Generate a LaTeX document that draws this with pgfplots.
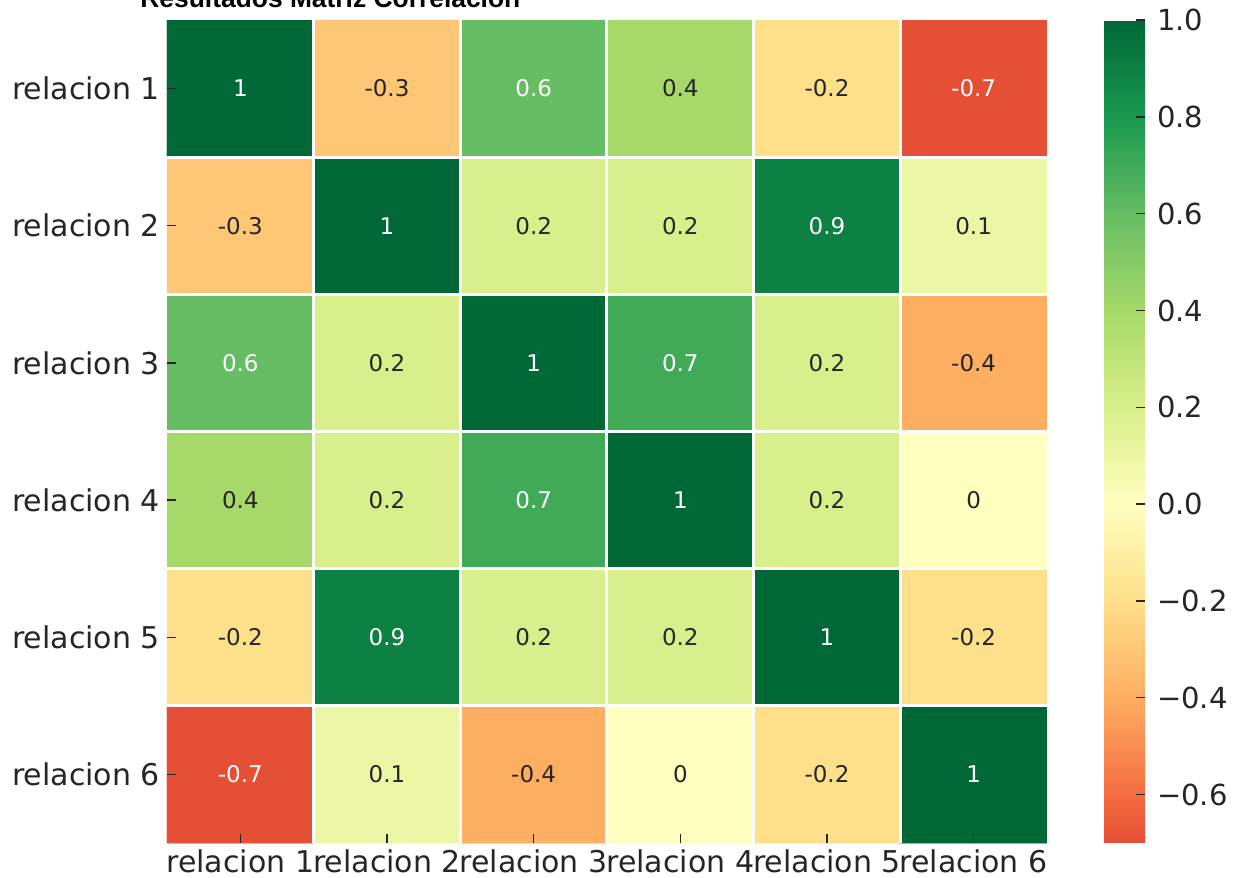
\documentclass[border=0pt]{standalone}
\usepackage{pgfplots}
\pgfplotsset{compat=1.18}
\usepackage{pgfplotstable}
\usepackage{fontspec}
\setmainfont{DejaVu Sans}
\newfontfamily\titlefont{Liberation Sans}

\definecolor{txtdark}{HTML}{262626}

% correlation matrix, x = column, y = row
\pgfplotstableread{
x y c
0 0 1
1 0 -0.3
2 0 0.6
3 0 0.4
4 0 -0.2
5 0 -0.7
0 1 -0.3
1 1 1
2 1 0.2
3 1 0.2
4 1 0.9
5 1 0.1
0 2 0.6
1 2 0.2
2 2 1
3 2 0.7
4 2 0.2
5 2 -0.4
0 3 0.4
1 3 0.2
2 3 0.7
3 3 1
4 3 0.2
5 3 0
0 4 -0.2
1 4 0.9
2 4 0.2
3 4 0.2
4 4 1
5 4 -0.2
0 5 -0.7
1 5 0.1
2 5 -0.4
3 5 0
4 5 -0.2
5 5 1
}\corr

% annotations on light cells
\pgfplotstableread{
x y lab
1 0 -0.3
3 0 0.4
4 0 -0.2
0 1 -0.3
2 1 0.2
3 1 0.2
5 1 0.1
1 2 0.2
4 2 0.2
5 2 -0.4
0 3 0.4
1 3 0.2
4 3 0.2
5 3 0
0 4 -0.2
2 4 0.2
3 4 0.2
5 4 -0.2
1 5 0.1
2 5 -0.4
3 5 0
4 5 -0.2
}\darklab

% annotations on dark cells
\pgfplotstableread{
x y lab
0 0 1
2 0 0.6
5 0 -0.7
1 1 1
4 1 0.9
0 2 0.6
2 2 1
3 2 0.7
2 3 0.7
3 3 1
1 4 0.9
4 4 1
0 5 -0.7
5 5 1
}\whitelab

\begin{document}
\begin{tikzpicture}
\begin{axis}[
  name=main,
  scale only axis,
  width=440pt, height=411.5pt,
  xmin=-0.5, xmax=5.5, ymin=-0.5, ymax=5.5,
  y dir=reverse,
  enlargelimits=false,
  axis line style={draw=none},
  xtick={0,1,2,3,4,5}, ytick={0,1,2,3,4,5},
  xticklabels={relacion 1,relacion 2,relacion 3,relacion 4,relacion 5,relacion 6},
  yticklabels={relacion 1,relacion 2,relacion 3,relacion 4,relacion 5,relacion 6},
  xtick pos=bottom, ytick pos=left,
  tick align=inside,
  major tick length=4.5pt,
  tick style={txtdark, line width=0.7pt},
  ticklabel style={font=\fontsize{15}{18}\selectfont, text=txtdark},
  extra x ticks={0.5,1.5,2.5,3.5,4.5},
  extra y ticks={0.5,1.5,2.5,3.5,4.5},
  extra x tick labels={}, extra y tick labels={},
  extra tick style={grid=major, major grid style={white, line width=1.5pt}, major tick length=0pt},
  axis on top,
  colormap={rdylgn}{rgb255(0)=(229,79,53) rgb255(1)=(244,109,67) rgb255(3)=(253,174,97)
    rgb255(5)=(254,224,139) rgb255(7)=(255,255,191) rgb255(9)=(217,239,139)
    rgb255(11)=(166,217,106) rgb255(13)=(102,189,99) rgb255(15)=(26,152,80) rgb255(17)=(0,104,55)},
  point meta min=-0.7, point meta max=1,
  colorbar,
  colorbar/width=20.5pt,
  colorbar style={
    at={(parent axis.north east)}, anchor=north west, xshift=20pt,
    ytick={-0.6,-0.4,-0.2,0,0.2,0.4,0.6,0.8,1},
    yticklabels={−0.6,−0.4,−0.2,0.0,0.2,0.4,0.6,0.8,1.0},
    ytick pos=right, yticklabel pos=right,
    tick align=inside, major tick length=4.5pt,
    tick style={txtdark, line width=0.7pt},
    axis line style={draw=none},
    yticklabel style={font=\fontsize{14.5}{17}\selectfont, text=txtdark, xshift=2.5pt},
  },
]
\addplot[matrix plot*, mesh/cols=6, point meta=explicit] table[meta=c] {\corr};
\addplot[draw=none, mark=none, nodes near coords, point meta=explicit symbolic,
  nodes near coords style={anchor=center, font=\fontsize{11.5}{14}\selectfont, text=txtdark}]
  table[meta=lab] {\darklab};
\addplot[draw=none, mark=none, nodes near coords, point meta=explicit symbolic,
  nodes near coords style={anchor=center, font=\fontsize{11.5}{14}\selectfont, text=white}]
  table[meta=lab] {\whitelab};
\end{axis}
\node[anchor=base west, font=\titlefont\bfseries\fontsize{13.2}{16}\selectfont, inner sep=0pt]
  at ([shift={(-13.5pt,6.5pt)}]main.north west) {Resultados Matriz Correlación};
\pgfresetboundingbox
\useasboundingbox ([shift={(-83.5pt,-17.5pt)}]main.south west) rectangle ++(616.5pt,439pt);
\end{tikzpicture}
\end{document}
